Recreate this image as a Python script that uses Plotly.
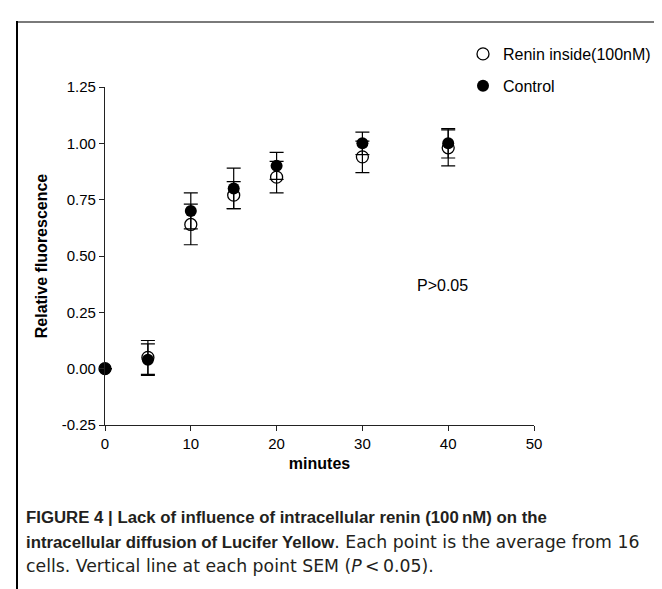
import plotly.graph_objects as go

minutes = [0, 5, 10, 15, 20, 30, 40]
renin_mean = [0.00, 0.05, 0.64, 0.77, 0.85, 0.94, 0.98]
renin_sem = [0.00, 0.075, 0.09, 0.06, 0.07, 0.07, 0.08]
control_mean = [0.00, 0.04, 0.70, 0.80, 0.90, 1.00, 1.00]
control_sem = [0.00, 0.07, 0.08, 0.09, 0.06, 0.05, 0.065]

x_ticks = [0, 10, 20, 30, 40, 50]
y_ticks = [-0.25, 0.00, 0.25, 0.50, 0.75, 1.00, 1.25]
y_tick_labels = ["-0.25", "0.00", "0.25", "0.50", "0.75", "1.00", "1.25"]

series_names = ["Renin inside(100nM)", "Control"]
annotation_text = "P>0.05"
x_title = "minutes"
y_title = "Relative fluorescence"

REG = "font-family:DejaVu Sans; font-size:17.3px; font-weight:normal"
caption_lines = [
    "<b>FIGURE 4 | Lack of influence of intracellular renin (100\u2009nM) on the</b>",
    "<b>intracellular diffusion of Lucifer Yellow</b>"
    f"<span style='{REG}'>. Each point is the average from 16</span>",
    f"<span style='{REG}'>cells. Vertical line at each point SEM (<i>P</i>\u2009<\u20090.05).</span>",
]

W, H = 662, 589
L, R, T, B = 97, 136, 79, 172
pw, ph = W - L - R, H - T - B


def px(xp):
    return (xp - L) / pw


def py(yp):
    return (H - B - yp) / ph


AX = "Liberation Sans, Arial, sans-serif"
CAP = "Liberation Sans, Arial, sans-serif"

fig = go.Figure()
fig.add_trace(go.Scatter(
    x=minutes, y=renin_mean, mode="markers", name=series_names[0],
    legendgroup="a",
    marker=dict(symbol="circle-open", size=12, color="black", line=dict(width=1.3, color="black")),
    error_y=dict(type="data", array=renin_sem, visible=True, color="black", thickness=1.2, width=7),
    cliponaxis=False,
))
fig.add_trace(go.Scatter(
    x=minutes, y=control_mean, mode="markers", name=series_names[1],
    legendgroup="b",
    marker=dict(symbol="circle", size=12, color="black"),
    error_y=dict(type="data", array=control_sem, visible=True, color="black", thickness=1.2, width=7),
    cliponaxis=False,
))

fig.update_xaxes(
    range=[0, 50], tickvals=x_ticks, showline=True, linecolor="#222", linewidth=1.2,
    ticks="outside", ticklen=5, tickcolor="#222", showgrid=False, zeroline=False,
    tickfont=dict(family=AX, size=15, color="black"),
    title=dict(text="<b>" + x_title + "</b>", font=dict(family=AX, size=16, color="black"), standoff=6),
)
fig.update_yaxes(
    range=[-0.25, 1.25], tickvals=y_ticks, ticktext=y_tick_labels, showline=True,
    linecolor="#222", linewidth=1.2, ticks="outside", ticklen=5, tickcolor="#222",
    showgrid=False, zeroline=False,
    tickfont=dict(family=AX, size=15, color="black"),
    title=dict(text="<b>" + y_title + "</b>", font=dict(family=AX, size=16, color="black"), standoff=10),
)

fig.add_annotation(x=px(407), y=py(277), xref="paper", yref="paper", text=annotation_text,
                   showarrow=False, xanchor="left", yanchor="middle",
                   font=dict(family=AX, size=16, color="black"))

cap_y = [509, 534, 558]
for line, yy in zip(caption_lines, cap_y):
    fig.add_annotation(x=px(16), y=py(yy), xref="paper", yref="paper", text=line,
                       showarrow=False, xanchor="left", yanchor="middle",
                       font=dict(family=CAP, size=16.8, color="#231f20"))

# figure frame
fig.add_shape(type="line", xref="paper", yref="paper", x0=px(9), x1=px(W + 2), y0=py(14), y1=py(14),
              line=dict(color="#7a7a7a", width=2))
fig.add_shape(type="line", xref="paper", yref="paper", x0=px(9), x1=px(9), y0=py(13), y1=py(H + 2),
              line=dict(color="black", width=2))

fig.update_layout(
    width=W, height=H, margin=dict(l=L, r=R, t=T, b=B, autoexpand=False),
    paper_bgcolor="white", plot_bgcolor="white",
    showlegend=True,
    legend=dict(x=px(455), y=py(29), xanchor="left", yanchor="top", bgcolor="rgba(0,0,0,0)",
                font=dict(family=AX, size=16, color="black"), tracegroupgap=8,
                traceorder="grouped"),
)

fig.write_html("out.html")
